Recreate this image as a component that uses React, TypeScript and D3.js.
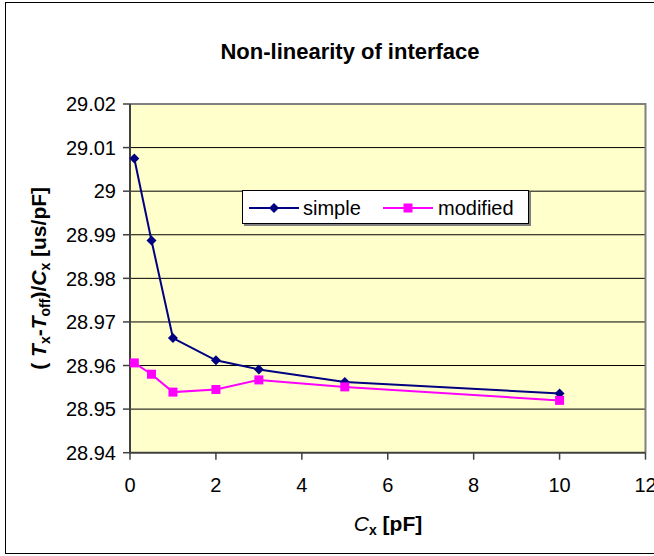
import React from "react";
import * as d3 from "d3";

const cx = [0.1, 0.5, 1, 2, 3, 5, 10];
const simpleVals = [29.0075, 28.9887, 28.9663, 28.9612, 28.9591, 28.9562, 28.9536];
const modifiedVals = [28.9606, 28.958, 28.9539, 28.9545, 28.9567, 28.9551, 28.952];
const xTicks = [0, 2, 4, 6, 8, 10, 12];
const yTicks = [28.94, 28.95, 28.96, 28.97, 28.98, 28.99, 29, 29.01, 29.02];
const yTickLabels = ["28.94", "28.95", "28.96", "28.97", "28.98", "28.99", "29", "29.01", "29.02"];

const FONT = "'Liberation Sans', Arial, sans-serif";

export default function App() {
  const L = 130, R = 645.5, T = 104, B = 452.7;
  const x = d3.scaleLinear().domain([0, 12]).range([L, R]);
  const y = d3.scaleLinear().domain([28.94, 29.02]).range([B, T]);
  const line = d3.line<number>().x((_, i) => x(cx[i])).y((v) => y(v));
  const diamond = (px: number, py: number, r = 5) =>
    `M${px},${py - r}L${px + r},${py}L${px},${py + r}L${px - r},${py}Z`;

  return (
    <svg width={654} height={556} style={{ position: "absolute", left: 0, top: 0, background: "#fff" }} fontFamily={FONT}>
      <rect x={0} y={0} width={654} height={556} fill="#fff" />
      <rect x={5.5} y={2.5} width={720} height={551} fill="#fff" stroke="#000" strokeWidth={1} />
      <text x={350} y={59} textAnchor="middle" fontSize={22} fontWeight="bold">Non-linearity of interface</text>
      {/* plot area */}
      <rect x={L} y={T} width={R - L} height={B - T} fill="#FFFFCC" />
      {yTicks.slice(1, -1).map((t) => (
        <line key={t} x1={L} x2={R} y1={y(t)} y2={y(t)} stroke="#000" strokeWidth={1} />
      ))}
      <path d={`M${L},${T}H${R}V${B}`} fill="none" stroke="#808080" strokeWidth={2} />
      <path d={`M${L},${T}V${B}H${R}`} fill="none" stroke="#404040" strokeWidth={2} />
      {/* y ticks */}
      {yTicks.map((t, i) => (
        <g key={t}>
          <line x1={L - 7} x2={L} y1={y(t)} y2={y(t)} stroke="#404040" strokeWidth={1.5} />
          <text x={116} y={y(t)} dy="0.36em" textAnchor="end" fontSize={20}>{yTickLabels[i]}</text>
        </g>
      ))}
      {/* x ticks */}
      {xTicks.map((t) => (
        <g key={t}>
          <line x1={x(t)} x2={x(t)} y1={B} y2={B + 7} stroke="#404040" strokeWidth={1.5} />
          <text x={x(t)} y={492} textAnchor="middle" fontSize={20}>{t}</text>
        </g>
      ))}
      {/* axis titles */}
      <text x={388} y={531} textAnchor="middle" fontSize={21} fontWeight="bold">
        <tspan fontStyle="italic" fontWeight="normal">C</tspan>
        <tspan fontSize={14} dy={4}>x</tspan>
        <tspan dy={-4}> [pF]</tspan>
      </text>
      <text transform={`translate(46,${(T + B) / 2}) rotate(-90)`} textAnchor="middle" fontSize={21} fontWeight="bold">
        <tspan>( </tspan>
        <tspan fontStyle="italic">T</tspan>
        <tspan fontSize={14} dy={4}>x</tspan>
        <tspan dy={-4}>-</tspan>
        <tspan fontStyle="italic">T</tspan>
        <tspan fontSize={14} dy={4}>off</tspan>
        <tspan dy={-4}>)/</tspan>
        <tspan fontStyle="italic">C</tspan>
        <tspan fontSize={14} dy={4}>x</tspan>
        <tspan dy={-4}> [us/pF]</tspan>
      </text>
      {/* series */}
      <path d={line(simpleVals) || ""} fill="none" stroke="#000080" strokeWidth={2} />
      <path d={line(modifiedVals) || ""} fill="none" stroke="#FF00FF" strokeWidth={2} />
      {simpleVals.map((v, i) => (
        <path key={"s" + i} d={diamond(x(cx[i]), y(v))} fill="#000080" />
      ))}
      {modifiedVals.map((v, i) => (
        <rect key={"m" + i} x={x(cx[i]) - 4.5} y={y(v) - 4.5} width={9} height={9} fill="#FF00FF" />
      ))}
      {/* legend */}
      <rect x={244} y={192} width={287} height={34} fill="#808080" />
      <rect x={242.5} y={190.5} width={286} height={33} fill="#fff" stroke="#000" strokeWidth={1} />
      <line x1={249} x2={299} y1={208} y2={208} stroke="#000080" strokeWidth={2} />
      <path d={diamond(274, 208)} fill="#000080" />
      <text x={303} y={215} fontSize={20}>simple</text>
      <line x1={383} x2={433} y1={208} y2={208} stroke="#FF00FF" strokeWidth={2} />
      <rect x={403.5} y={203.5} width={9} height={9} fill="#FF00FF" />
      <text x={438} y={215} fontSize={20}>modified</text>
    </svg>
  );
}
